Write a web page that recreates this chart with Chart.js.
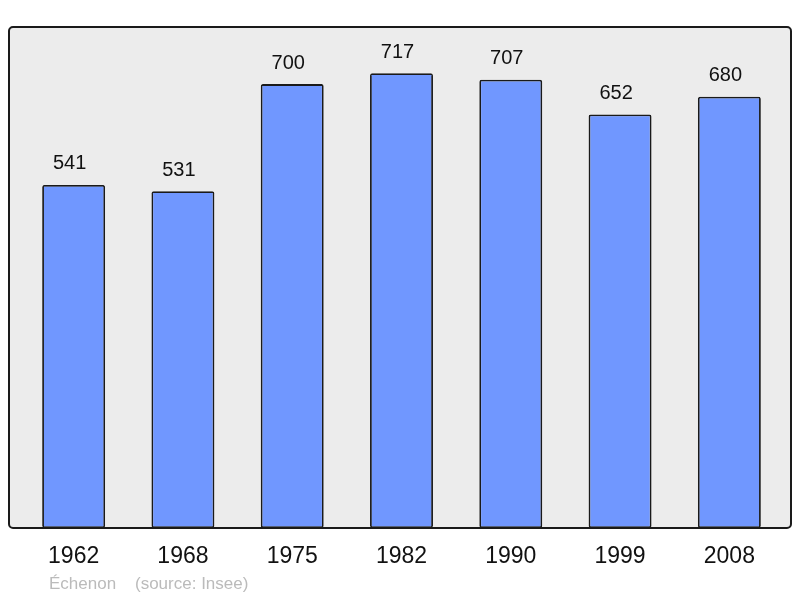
<!DOCTYPE html>
<html><head><meta charset="utf-8">
<script src="https://cdn.jsdelivr.net/npm/chart.js@4.4.1/dist/chart.umd.min.js"></script>
<style>html,body{margin:0;padding:0;background:#fff}#w{width:800px;height:598px}</style>
</head><body><div id="w"><canvas id="c" width="800" height="598"></canvas></div>
<script>
const years = ["1962","1968","1975","1982","1990","1999","2008"];
const population = [541,531,700,717,707,652,680];
const caption = "Échenon    (source: Insee)";

const boxPlugin = {
  id:'box',
  beforeDatasetsDraw(chart){
    const {ctx, chartArea:a} = chart;
    const l=a.left-10, r=a.right+7, t=a.top, b=a.bottom, rad=4;
    ctx.save();
    ctx.beginPath();
    ctx.roundRect(l,t,r-l,b-t,rad);
    ctx.fillStyle='#ececec'; ctx.fill();
    ctx.lineWidth=2; ctx.strokeStyle='#1a1a1a'; ctx.stroke();
    ctx.restore();
  },
  afterDatasetsDraw(chart){
    const {ctx} = chart;
    const meta = chart.getDatasetMeta(0);
    ctx.save();
    ctx.font='20px "Liberation Sans", Arial, sans-serif';
    ctx.fillStyle='#111'; ctx.textAlign='center'; ctx.textBaseline='middle';
    meta.data.forEach((bar,i)=>{ ctx.fillText(String(population[i]), bar.x-4, bar.y-21); });
    ctx.font='17px "Liberation Sans", Arial, sans-serif';
    ctx.fillStyle='#bbbbbb'; ctx.textAlign='left';
    ctx.fillText(caption, 49, 584);
    ctx.restore();
  }
};

new Chart(document.getElementById('c'),{
  type:'bar',
  data:{labels:years,datasets:[{data:population,backgroundColor:'#7097ff',borderColor:'#1a1a1a',borderWidth:1.8,borderRadius:2,borderSkipped:false,barPercentage:0.576,categoryPercentage:1}]},
  options:{
    responsive:false,animation:false,
    layout:{padding:{left:19,right:16,top:27,bottom:0}},
    plugins:{legend:{display:false},tooltip:{enabled:false}},
    scales:{
      x:{grid:{display:false},border:{display:false},
         ticks:{color:'#111',padding:7,font:{size:23,family:'"Liberation Sans", Arial, sans-serif'}},
         afterFit(s){s.height=70;}},
      y:{display:false,min:0,max:790}
    }
  },
  plugins:[boxPlugin]
});
</script></body></html>
